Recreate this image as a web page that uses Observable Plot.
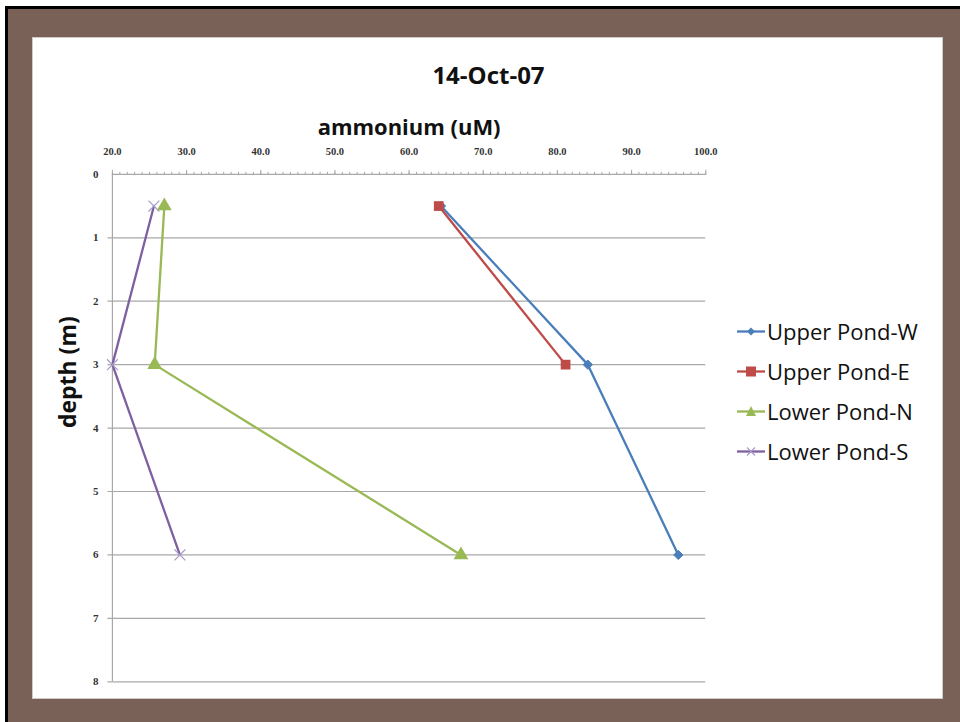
<!DOCTYPE html>
<html>
<head>
<meta charset="utf-8">
<script src="https://cdn.jsdelivr.net/npm/d3@7"></script>
<script src="https://cdn.jsdelivr.net/npm/@observablehq/plot@0.6"></script>
<style>
  html, body { margin: 0; padding: 0; background: #ffffff; }
  #frame { position: absolute; left: 5px; top: 6px; width: 955px; height: 716px;
           background: #7a6157; border-top: 3px solid #000; border-left: 3px solid #000; box-sizing: border-box; }
  #panel { position: absolute; left: 32px; top: 37px; width: 911px; height: 662px;
           background: #fff; border: 1px solid #cfcbc2; box-sizing: border-box; }
  #title { position: absolute; left: 0; top: 20px; width: 911px; text-align: center; line-height: 30px;
           font: bold 24px "Open Sans", sans-serif; color: #111; }
  #chart { position: absolute; left: -1px; top: -1px; }
  #legend { position: absolute; left: 704px; top: 273px; font: 22px "Open Sans", sans-serif; color: #111; }
  .item { display: flex; align-items: center; height: 40px; }
  .item svg { margin-right: 2px; }
</style>
</head>
<body>
<div id="frame"></div>
<div id="panel">
  <div id="title">14-Oct-07</div>
  <div id="chart"></div>
  <div id="legend"></div>
</div>
<script>
const depths = [0.5, 3, 6];
const upperPondW = [64.3, 84.1, 96.3];
const upperPondE = [64.0, 81.1];
const lowerPondN = [27.0, 25.7, 67.0];
const lowerPondS = [25.6, 20.0, 29.1];
const xTicks = [20, 30, 40, 50, 60, 70, 80, 90, 100];
const yTicks = [0, 1, 2, 3, 4, 5, 6, 7, 8];

const series = [
  {name: "Upper Pond-W", values: upperPondW, color: "#4a7ebb", symbol: "diamond2", r: 4.2, fill: "#4a7ebb", stroke: "#4a7ebb", sw: 1},
  {name: "Upper Pond-E", values: upperPondE, color: "#be4b48", symbol: "square", r: 5.5, fill: "#be4b48", stroke: "none", sw: 0},
  {name: "Lower Pond-N", values: lowerPondN, color: "#98b954", symbol: "triangle", r: 5.5, fill: "#98b954", stroke: "none", sw: 0},
  {name: "Lower Pond-S", values: lowerPondS, color: "#7d60a0", symbol: "times", r: 5, fill: "none", stroke: "#a79bc8", sw: 1.2}
];
const rows = series.flatMap(s => s.values.map((v, i) => ({series: s.name, x: v, depth: depths[i]})));

const minor = d3.range(20, 101, 1);

const marks = [
  Plot.ruleY(yTicks.filter(d => d > 0), {stroke: "#a8a8a8", strokeWidth: 1.2, strokeOpacity: 1, x1: 19.4, x2: 100}),
  Plot.ruleX([20], {stroke: "#a8a8a8", strokeWidth: 1.2}),
  Plot.ruleY([0], {stroke: "#a8a8a8", strokeWidth: 1.2}),
  Plot.axisX({anchor: "top", ticks: minor, tickSize: 3, tickFormat: null, stroke: "#a8a8a8", text: null, label: null}),
  Plot.axisX({anchor: "top", ticks: xTicks, tickSize: 5, tickPadding: 14, tickFormat: d => d.toFixed(1),
              stroke: "#a8a8a8", fill: "#333", fontSize: 10.5, fontFamily: "Liberation Serif", fontWeight: "bold", label: null}),
  Plot.axisY({anchor: "left", ticks: yTicks, tickSize: 0, tickPadding: 14, tickFormat: d => String(d),
              fill: "#333", fontSize: 11, fontFamily: "Liberation Serif", fontWeight: "bold", label: null}),
  Plot.text(["ammonium (uM)"], {frameAnchor: "top", dy: -55, fontSize: 22, fontWeight: "bold", fontFamily: "Open Sans", fill: "#111"}),
  Plot.text(["depth (m)"], {frameAnchor: "left", dx: -44, rotate: -90, fontSize: 23, fontWeight: "bold", fontFamily: "Open Sans", fill: "#111"})
];
for (const s of series) {
  const data = rows.filter(r => r.series === s.name);
  marks.push(Plot.line(data, {x: "x", y: "depth", stroke: s.color, strokeWidth: 2.3}));
}
for (const s of series) {
  const data = rows.filter(r => r.series === s.name);
  marks.push(Plot.dot(data, {x: "x", y: "depth", symbol: () => s.symbol, r: s.r, fill: s.fill, stroke: s.stroke, strokeWidth: s.sw}));
}

const chart = Plot.plot({
  width: 911,
  height: 662,
  marginLeft: 80,
  marginRight: 237,
  marginTop: 137,
  marginBottom: 17,
  style: {background: "transparent", overflow: "visible"},
  x: {domain: [20, 100], axis: null},
  y: {domain: [0, 8], reverse: true, axis: null},
  symbol: {type: "identity"},
  marks
});
document.getElementById("chart").appendChild(chart);

// legend
const legend = document.getElementById("legend");
const sym = {
  "diamond2": '<path d="M14 6.5 L18 10.5 L14 14.5 L10 10.5Z" fill="#4a7ebb"/>',
  "square": '<rect x="9" y="5.5" width="10" height="10" fill="#be4b48"/>',
  "triangle": '<path d="M14 5 L19 15 L9 15Z" fill="#98b954"/>',
  "times": '<path d="M10 6.5 L18 14.5 M18 6.5 L10 14.5" stroke="#a79bc8" stroke-width="1.2"/>'
};
for (const s of series) {
  const d = document.createElement("div");
  d.className = "item";
  d.innerHTML = `<svg width="28" height="21"><line x1="0" x2="28" y1="10.5" y2="10.5" stroke="${s.color}" stroke-width="2.3"/>${sym[s.symbol]}</svg><span>${s.name}</span>`;
  legend.appendChild(d);
}
</script>
</body>
</html>
